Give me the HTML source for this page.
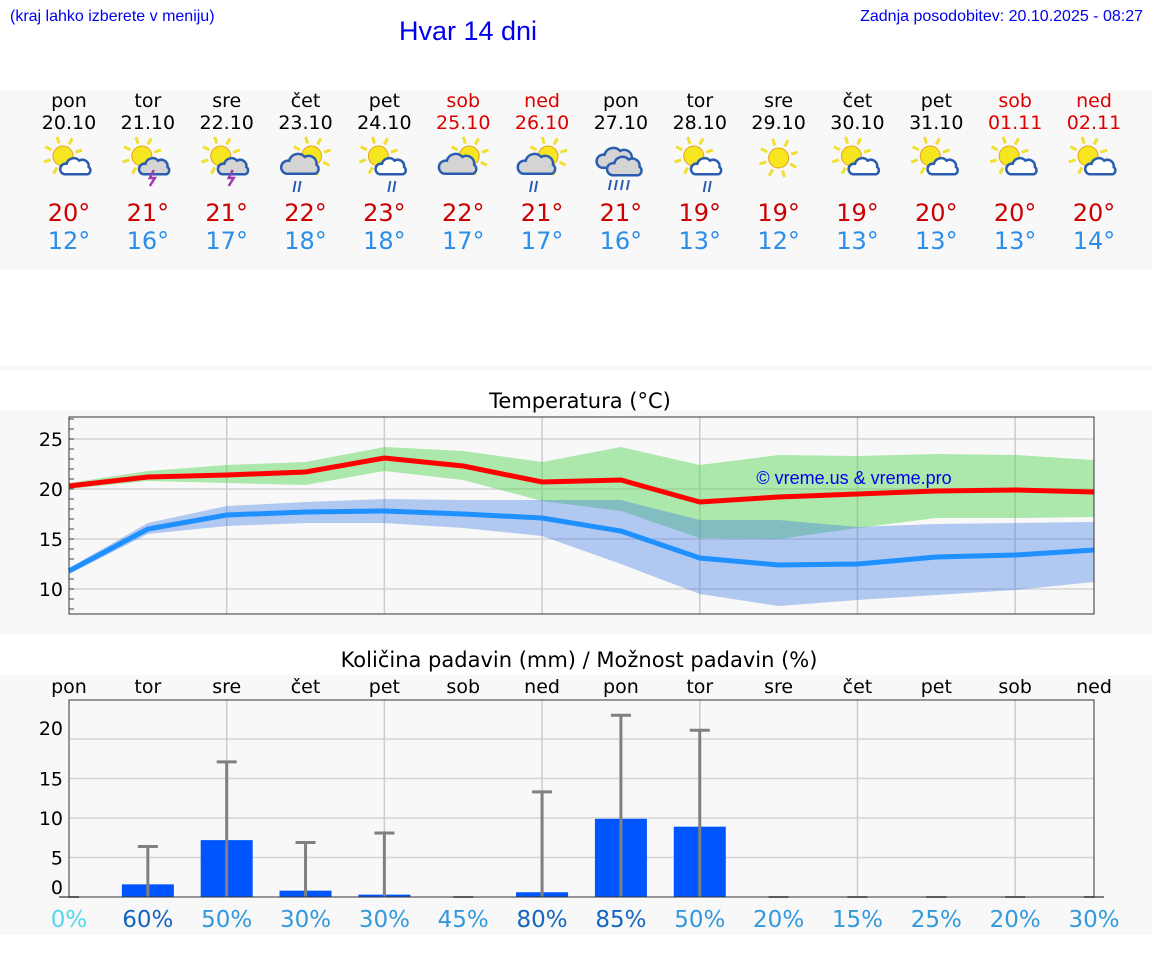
<!DOCTYPE html>
<html><head><meta charset="utf-8"><style>
body{margin:0;background:#fff;}
svg{display:block;font-family:"DejaVu Sans","Liberation Sans",sans-serif;}
</style></head><body>
<svg id="root" width="1152" height="975" xmlns="http://www.w3.org/2000/svg">
<rect x="0" y="90" width="1152" height="180" fill="#f8f8f8"/>
<rect x="0" y="365" width="1152" height="6" fill="#f8f8f8"/>
<rect x="0" y="410" width="1152" height="225" fill="#f8f8f8"/>
<rect x="0" y="675" width="1152" height="260" fill="#f8f8f8"/>
<text x="10" y="21" font-family="Liberation Sans,sans-serif" font-size="16" fill="#0000ee">(kraj lahko izberete v meniju)</text>
<text x="468" y="40" text-anchor="middle" font-family="Liberation Sans,sans-serif" font-size="27" fill="#0000ee">Hvar 14 dni</text>
<text x="1143" y="21" text-anchor="end" font-family="Liberation Sans,sans-serif" font-size="16" fill="#0000ee">Zadnja posodobitev: 20.10.2025 - 08:27</text>
<text x="580" y="408" text-anchor="middle" font-size="21" fill="#000">Temperatura (°C)</text>
<text x="579" y="667" text-anchor="middle" font-size="21" fill="#000">Količina padavin (mm) / Možnost padavin (%)</text>
<g id="days"></g>
<g id="temp"></g>
<g id="prec"></g>
</svg>
<script>
const dayNames=["pon","tor","sre","čet","pet","sob","ned","pon","tor","sre","čet","pet","sob","ned"];
const dates=["20.10","21.10","22.10","23.10","24.10","25.10","26.10","27.10","28.10","29.10","30.10","31.10","01.11","02.11"];
const icons=["sc","sct","sct","sgr","scr","sg","sgr","rr","scr","s","sc","sc","sc","sc"];
const maxT=[20.3,21.2,21.4,21.7,23.1,22.3,20.7,20.9,18.7,19.2,19.5,19.8,19.9,19.7];
const maxTHi=[20.6,21.8,22.4,22.7,24.2,23.8,22.7,24.2,22.4,23.4,23.3,23.5,23.4,22.9];
const maxTLo=[20.0,20.8,20.6,20.4,21.8,20.9,18.8,17.8,15.1,15.0,16.1,17.1,17.1,17.2];
const minT=[11.8,16.0,17.4,17.7,17.8,17.5,17.1,15.8,13.1,12.4,12.5,13.2,13.4,13.9];
const minTHi=[12.1,16.6,18.3,18.7,19.0,18.9,18.9,18.9,16.9,16.9,16.2,16.5,16.6,16.7];
const minTLo=[11.5,15.5,16.3,16.6,16.6,16.1,15.3,12.5,9.5,8.3,8.9,9.4,9.9,10.7];
const dispMax=[20,21,21,22,23,22,21,21,19,19,19,20,20,20];
const dispMin=[12,16,17,18,18,17,17,16,13,12,13,13,13,14];
const tempTicks=[10,15,20,25];
const precip=[0,1.6,7.2,0.8,0.3,0,0.6,9.9,8.9,0,0,0,0,0];
const precipMax=[0,6.4,17.1,6.9,8.1,0,13.3,23.0,21.1,0,0,0,0,0];
const chance=[0,60,50,30,30,45,80,85,50,20,15,25,20,30];
const precipTicks=[0,5,10,15,20];

const NS="http://www.w3.org/2000/svg";
function mk(p,t,a){const e=document.createElementNS(NS,t);for(const k in a)e.setAttribute(k,a[k]);p.appendChild(e);return e;}
const X0=69,X1=1094;
const xs=i=>X0+i*(X1-X0)/13;
const ty=t=>489-(t-20)*10;
const py=v=>897-v*7.9;
const weekend=i=>dayNames[i]==="sob"||dayNames[i]==="ned";

const D=document.getElementById('days');
function sun(g,cx,cy,r){
  for(let k=0;k<8;k++){const a=k*Math.PI/4-0.3;
    mk(g,'line',{x1:cx+Math.cos(a)*(r+3),y1:cy+Math.sin(a)*(r+3),x2:cx+Math.cos(a)*(r+10),y2:cy+Math.sin(a)*(r+10),stroke:'#f0e030','stroke-width':3});}
  mk(g,'circle',{cx:cx,cy:cy,r:r,fill:'#f5e620',stroke:'#e8a020','stroke-width':1});
}
function cloud(g,cx,cy,s,fill){
  mk(g,'path',{d:`M${cx-10*s},${cy+6*s} a${5*s} ${5*s} 0 0 1 ${2*s},${-10*s} a${7*s} ${7*s} 0 0 1 ${12*s},${-3*s} a${6*s} ${6*s} 0 0 1 ${9*s},${6*s} a${4*s} ${4*s} 0 0 1 ${-1*s},${7*s} z`,fill:fill,stroke:'#2a5db0','stroke-width':2.5});
}
for(let i=0;i<14;i++){
  const x=xs(i),col=weekend(i)?'#d00':'#000';
  const g=mk(D,'g',{});
  
  
  const n=mk(g,'text',{x:x,y:107,'text-anchor':'middle','font-size':19,fill:col});n.textContent=dayNames[i];
  
  
  const d=mk(g,'text',{x:x,y:129,'text-anchor':'middle','font-size':19,fill:col});d.textContent=dates[i];
  
  
  const ic=mk(g,'g',{});
  
  
  const t=icons[i];
  if(t==='rr'){cloud(ic,x-6,160,1.3,'#d4d4d4');cloud(ic,x+3,168,1.2,'#d4d4d4');
    for(let k=0;k<4;k++)mk(ic,'line',{x1:x-10+k*6,y1:180,x2:x-12+k*6,y2:190,stroke:'#2a5db0','stroke-width':2});}
  else if(t==='s'){sun(ic,x,158,10);}
  else{
    const grey=t==='sg'||t==='sgr'||t==='sct';
    if(t==='sgr'||t==='sg'){sun(ic,x+6,156,10);cloud(ic,x-6,166,1.3,'#d4d4d4');}
    else{sun(ic,x-6,156,10);cloud(ic,x+6,168,1.05,grey?'#d4d4d4':'#fff');}
    if(t==='sct')mk(ic,'path',{d:`M${x+6},170 l-4,8 h5 l-5,8`,fill:'none',stroke:'#a03cb0','stroke-width':2.5});
    if(t==='sgr'||t==='scr'){const rx=t==='sgr'?x-10:x+6;
      mk(ic,'line',{x1:rx,y1:181,x2:rx-2,y2:192,stroke:'#2a5db0','stroke-width':2});
      mk(ic,'line',{x1:rx+5,y1:181,x2:rx+3,y2:192,stroke:'#2a5db0','stroke-width':2});}
  }
  const mx=mk(g,'text',{x:x,y:221,'text-anchor':'middle','font-size':24,fill:'#cc0000'});mx.textContent=dispMax[i]+'°';
  
  
  const mn=mk(g,'text',{x:x,y:249,'text-anchor':'middle','font-size':24,fill:'#2b8ee8'});mn.textContent=dispMin[i]+'°';
  
  
}

const T=document.getElementById('temp');
mk(T,'rect',{x:X0,y:417,width:X1-X0,height:197,fill:'#f8f8f8'});
for(const v of tempTicks){mk(T,'line',{x1:X0,x2:X1,y1:ty(v),y2:ty(v),stroke:'#d4d4d4','stroke-width':1.5});
  const l=mk(T,'text',{x:63,y:ty(v)+7,'text-anchor':'end','font-size':19,fill:'#000'});l.textContent=v;
  
  }
for(let v=8;v<=27;v++)mk(T,'line',{x1:X0,x2:X0+5,y1:ty(v),y2:ty(v),stroke:'#444','stroke-width':1});
for(let i=2;i<14;i+=2)mk(T,'line',{x1:xs(i),x2:xs(i),y1:417,y2:614,stroke:'#ccc','stroke-width':1.5});
function band(hi,lo,fill,name){const pts=hi.map((v,i)=>xs(i)+','+ty(v)).concat(lo.map((v,i)=>xs(i)+','+ty(v)).reverse());
  const p=mk(T,'polygon',{points:pts.join(' '),fill:fill});
  
  }
band(maxTHi,maxTLo,'rgba(80,210,80,0.45)','max-temp-band');
band(minTHi,minTLo,'rgba(60,120,230,0.38)','min-temp-band');
function line(arr,col,name){const p=mk(T,'polyline',{points:arr.map((v,i)=>xs(i)+','+ty(v)).join(' '),fill:'none',stroke:col,'stroke-width':5});
  
  }
line(maxT,'#ff0000','max-temp-line');
line(minT,'#1e90ff','min-temp-line');
mk(T,'rect',{x:X0,y:417,width:X1-X0,height:197,fill:'none',stroke:'#333','stroke-width':1});
const cp=mk(T,'text',{x:854,y:484,'text-anchor':'middle','font-size':18,'font-family':'Liberation Sans,sans-serif',fill:'#0000ee'});cp.textContent='© vreme.us & vreme.pro';



const P=document.getElementById('prec');
mk(P,'rect',{x:X0,y:700,width:X1-X0,height:197,fill:'#f8f8f8'});
for(let i=0;i<14;i++){const l=mk(P,'text',{x:xs(i),y:693,'text-anchor':'middle','font-size':19,fill:'#000'});l.textContent=dayNames[i];
  
  }
for(const v of precipTicks){if(v>0)mk(P,'line',{x1:X0,x2:X1,y1:py(v),y2:py(v),stroke:'#d4d4d4','stroke-width':1.5});
  const off=v===0?-3:(v===20?-4:7);
  const l=mk(P,'text',{x:63,y:py(v)+off,'text-anchor':'end','font-size':19,fill:'#000'});l.textContent=v;
  
  }
for(let i=2;i<14;i+=2)mk(P,'line',{x1:xs(i),x2:xs(i),y1:700,y2:897,stroke:'#ccc','stroke-width':1.5});
for(let i=0;i<14;i++){const x=xs(i);
  if(precip[i]>0){const b=mk(P,'rect',{x:x-26,y:py(precip[i]),width:52,height:897-py(precip[i]),fill:'#0055ff'});
    
    }
  if(precipMax[i]>0){const w=mk(P,'g',{});
    
    
    mk(w,'line',{x1:x,x2:x,y1:py(precipMax[i]),y2:897,stroke:'#808080','stroke-width':3});
    mk(w,'line',{x1:x-10,x2:x+10,y1:py(precipMax[i]),y2:py(precipMax[i]),stroke:'#808080','stroke-width':3});}
  else mk(P,'line',{x1:x-10,x2:x+10,y1:897,y2:897,stroke:'#808080','stroke-width':2});
  const c=chance[i];
  const pc=mk(P,'text',{x:x,y:927,'text-anchor':'middle','font-size':23,fill:c===0?'#55d8ea':(c>=60?'#1565c0':'#3399dd')});pc.textContent=c+'%';
  
  }
mk(P,'rect',{x:X0,y:700,width:X1-X0,height:197,fill:'none',stroke:'#333','stroke-width':1});
</script>
</body></html>
